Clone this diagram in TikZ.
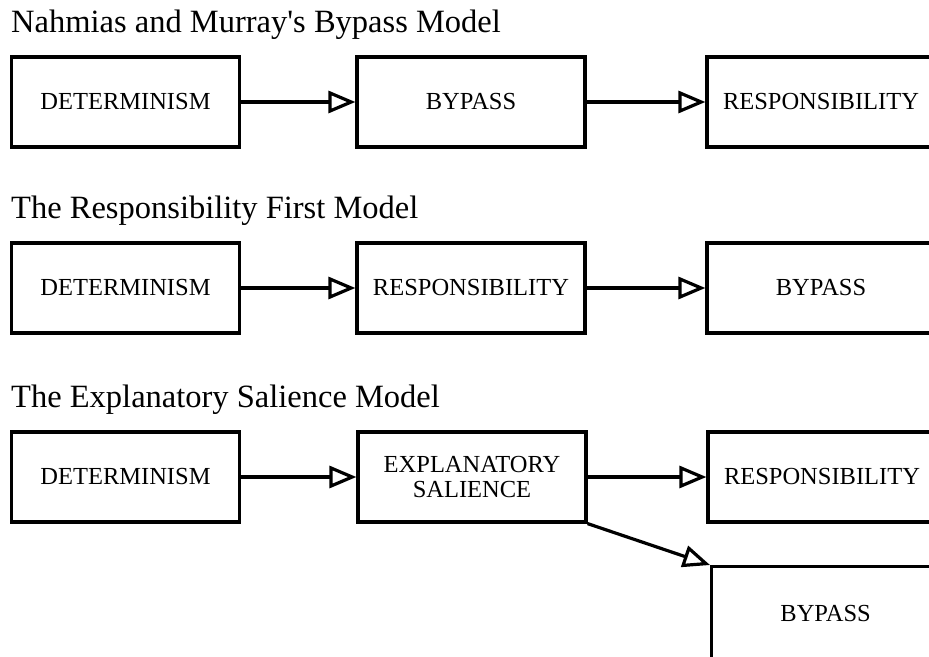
\documentclass[tikz,border=0pt]{standalone}
\usepackage{fontspec}
\setmainfont{Liberation Serif}[Ligatures=TeXOff]
\usetikzlibrary{arrows.meta}
\tikzset{
  box/.style={draw, line width=3.2pt, minimum width=228pt, minimum height=90pt,
    inner sep=0pt, align=center, font=\fontsize{24.5}{25}\selectfont},
  ttl/.style={anchor=base west, inner sep=0pt, font=\fontsize{32.5}{39}\selectfont},
  conn/.style={line width=3.2pt, -{Triangle[open, length=27pt, width=22pt, fill=white]}}
}
\begin{document}
\begin{tikzpicture}[x=1pt, y=-1pt]
\useasboundingbox (0,0) rectangle (929,656);
\clip (0,0) rectangle (929,656);
% Row 1
\node[ttl] (t1) at (11,32) {Nahmias and Murray's Bypass Model};
\node[box] (a1) at (125.5,102) {DETERMINISM};
\node[box] (a2) at (471,102) {BYPASS};
\node[box] (a3) at (821,102) {RESPONSIBILITY};
\draw[conn] (a1.east) -- (a2.west);
\draw[conn] (a2.east) -- (a3.west);
% Row 2
\node[ttl] (t2) at (11,218) {The Responsibility First Model};
\node[box] (b1) at (125.5,288) {DETERMINISM};
\node[box] (b2) at (471,288) {RESPONSIBILITY};
\node[box] (b3) at (821,288) {BYPASS};
\draw[conn] (b1.east) -- (b2.west);
\draw[conn] (b2.east) -- (b3.west);
% Row 3
\node[ttl] (t3) at (11,407) {The Explanatory Salience Model};
\node[box] (c1) at (125.5,477) {DETERMINISM};
\node[box] (c2) at (472,477) {EXPLANATORY\\SALIENCE};
\node[box] (c3) at (822,477) {RESPONSIBILITY};
\node[box, minimum height=100pt, anchor=north west] (c4) at (710,565) {\raisebox{6pt}{BYPASS}};
\draw[conn] (c1.east) -- (c2.west);
\draw[conn] (c2.east) -- (c3.west);
\draw[conn] (c2.south east) -- (c4.north west);
\end{tikzpicture}
\end{document}
